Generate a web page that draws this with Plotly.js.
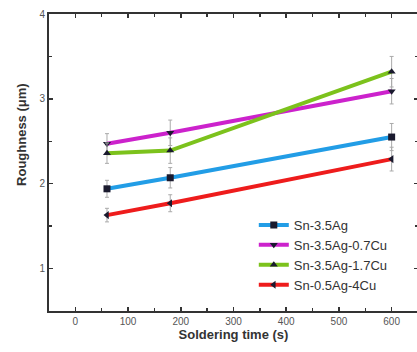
<!DOCTYPE html>
<html>
<head>
<meta charset="utf-8">
<script src="https://cdn.plot.ly/plotly-3.0.1.min.js"></script>
<style>
html,body{margin:0;padding:0;overflow:hidden;background:#fff;}
#chart{width:425px;height:352px;}
</style>
</head>
<body>
<div id="chart"></div>
<script>
var times = [60, 180, 600];
var seriesNames = ["Sn-3.5Ag", "Sn-3.5Ag-0.7Cu", "Sn-3.5Ag-1.7Cu", "Sn-0.5Ag-4Cu"];
var snAg = [1.94, 2.07, 2.55];
var snAgCu07 = [2.47, 2.60, 3.09];
var snAgCu17 = [2.36, 2.39, 3.32];
var snAgCu4 = [1.63, 1.77, 2.29];
var errSnAg = [0.10, 0.12, 0.16];
var errSnAgCu07 = [0.12, 0.15, 0.15];
var errSnAgCu17 = [0.12, 0.15, 0.18];
var errSnAgCu4 = [0.08, 0.10, 0.14];
var xTickVals = [0, 100, 200, 300, 400, 500, 600];
var yTickVals = [1, 2, 3, 4];

var colors = ["#229de6", "#cc22cc", "#7cc21c", "#ee1c1c"];
var symbols = ["square", "triangle-down", "triangle-up", "triangle-left"];
var ys = [snAg, snAgCu07, snAgCu17, snAgCu4];
var errs = [errSnAg, errSnAgCu07, errSnAgCu17, errSnAgCu4];

var traces = ys.map(function(y, i){
  return {
    x: times, y: y, name: seriesNames[i], type: 'scatter', mode: 'lines+markers',
    line: {color: colors[i], width: 4},
    marker: {symbol: symbols[i], size: 7, color: '#1a1a2e'},
    error_y: {type: 'data', array: errs[i], visible: true, color: '#aaa', thickness: 1, width: 2}
  };
});

var axisCommon = {
  showline: true, linecolor: '#333', linewidth: 2, mirror: 'ticks',
  ticks: 'inside', ticklen: 4, tickcolor: '#333', tickwidth: 1.5,
  showgrid: false, zeroline: false,
  tickfont: {family: 'Liberation Sans, Arial', size: 10, color: '#555'}
};

var layout = {
  width: 425, height: 352,
  margin: {l: 49, r: 7, t: 14, b: 41},
  paper_bgcolor: '#fff', plot_bgcolor: '#fff',
  showlegend: true,
  legend: {x: 0.555, y: 0.34, xanchor: 'left', yanchor: 'top',
           bgcolor: 'rgba(255,255,255,0)', borderwidth: 0,
           font: {family: 'Liberation Sans, Arial', size: 13, color: '#333'},
           tracegroupgap: 0},
  xaxis: Object.assign({}, axisCommon, {
    range: [-50, 650], tickvals: xTickVals,
    minor: {ticks: 'inside', dtick: 50, ticklen: 3, tickcolor: '#333'},
    title: {text: '<b>Soldering time (s)</b>', standoff: 3,
            font: {family: 'Liberation Sans, Arial', size: 13, color: '#333'}}
  }),
  yaxis: Object.assign({}, axisCommon, {
    range: [0.5, 4], tickvals: yTickVals,
    minor: {ticks: 'inside', dtick: 0.5, ticklen: 3, tickcolor: '#333'}
  }),
  annotations: [{
    text: '<b>Roughness (μm)</b>', xref: 'paper', yref: 'paper',
    x: -0.073, y: 0.593, xanchor: 'center', yanchor: 'middle', textangle: -90,
    showarrow: false, font: {family: 'Liberation Sans, Arial', size: 13, color: '#333'}
  }]
};

Plotly.newPlot('chart', traces, layout, {displayModeBar: false, staticPlot: true});
</script>
</body>
</html>
